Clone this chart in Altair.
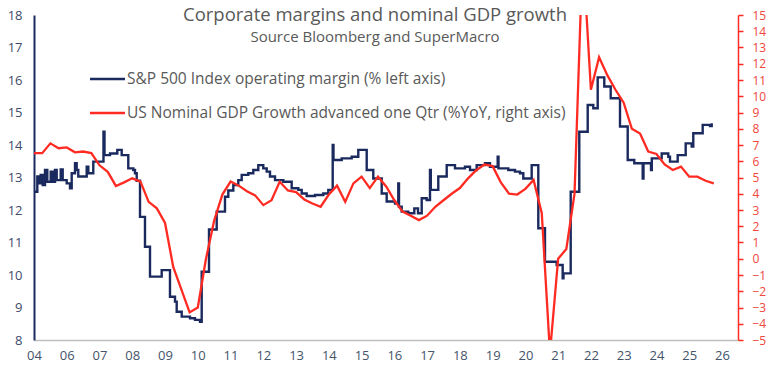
import altair as alt
import pandas as pd

# ---------------- data ----------------
# S&P 500 operating margin (% , left axis) -- step series, fractional years
BLUE_T = [2005.000, 2005.101, 2005.162, 2005.205, 2005.266, 2005.336, 2005.406, 2005.510,
          2005.571, 2005.641, 2005.693, 2005.815, 2005.876, 2005.998, 2006.099, 2006.151,
          2006.252, 2006.303, 2006.352, 2006.609, 2006.658, 2006.810, 2007.121, 2007.152,
          2007.320, 2007.543, 2007.677, 2007.878, 2008.031, 2008.083, 2008.135, 2008.236,
          2008.388, 2008.541, 2008.898, 2009.151, 2009.304, 2009.356, 2009.509, 2009.762,
          2009.915, 2010.067, 2010.119, 2010.342, 2010.577, 2010.830, 2010.931, 2011.084,
          2011.236, 2011.340, 2011.542, 2011.694, 2011.847, 2011.999, 2012.103, 2012.204,
          2012.357, 2012.610, 2012.866, 2013.068, 2013.172, 2013.324, 2013.578, 2013.831,
          2013.984, 2014.118, 2014.142, 2014.393, 2014.698, 2014.899, 2015.156, 2015.357,
          2015.614, 2015.766, 2016.020, 2016.120, 2016.142, 2016.224, 2016.426, 2016.609,
          2016.722, 2016.835, 2016.987, 2017.088, 2017.112, 2017.341, 2017.598, 2017.851,
          2018.156, 2018.309, 2018.513, 2018.767, 2018.919, 2019.154, 2019.179, 2019.478,
          2019.683, 2019.835, 2019.936, 2020.192, 2020.394, 2020.598, 2020.955, 2021.138,
          2021.163, 2021.383, 2021.645, 2021.902, 2022.073, 2022.207, 2022.408, 2022.604,
          2022.888, 2023.123, 2023.324, 2023.581, 2023.605, 2023.834, 2023.858, 2024.161,
          2024.362, 2024.414, 2024.649, 2024.893, 2025.076, 2025.125, 2025.412, 2025.635,
          2025.687]
BLUE_V = [12.56, 13.03, 12.82, 13.08, 12.77, 13.23, 12.87, 13.18,
          12.87, 13.23, 12.92, 13.25, 12.92, 12.82, 12.67, 13.13,
          13.44, 13.23, 13.03, 13.33, 13.13, 13.49, 14.41, 13.69,
          13.74, 13.85, 13.69, 13.28, 13.23, 13.13, 12.90, 11.79,
          10.87, 9.95, 10.15, 9.33, 9.18, 8.87, 8.72, 8.67,
          8.62, 8.56, 10.10, 11.40, 11.95, 12.41, 12.60, 12.77,
          12.92, 13.08, 13.13, 13.23, 13.38, 13.28, 13.18, 13.03,
          12.92, 12.87, 12.67, 12.62, 12.51, 12.43, 12.46, 12.51,
          12.62, 14.00, 13.54, 13.59, 13.64, 13.85, 13.23, 12.97,
          12.51, 12.26, 12.20, 12.82, 12.10, 11.95, 11.90, 12.05,
          11.90, 12.36, 12.31, 13.23, 12.62, 13.03, 13.38, 13.28,
          13.33, 13.23, 13.38, 13.44, 13.33, 13.64, 13.28, 13.23,
          13.18, 13.13, 12.97, 13.38, 11.44, 10.41, 10.31, 9.90,
          10.05, 12.56, 14.41, 15.23, 15.13, 16.08, 15.80, 15.44,
          14.57, 13.54, 13.44, 12.97, 13.44, 13.23, 13.59, 13.74,
          13.64, 13.49, 13.69, 14.05, 13.95, 14.36, 14.62, 14.58,
          14.67]

# US nominal GDP growth advanced one quarter (%YoY, right axis), quarterly from 2005
RED_V = [6.50, 6.50, 7.10, 6.80, 6.85, 6.55, 6.60, 6.50, 5.75, 5.35,
         4.48, 4.70, 4.95, 4.75, 3.50, 3.10, 2.20, -0.50, -1.90, -3.30,
         -3.00, 0.00, 2.35, 3.95, 4.75, 4.50, 4.15, 3.90, 3.30, 3.60,
         4.74, 4.20, 4.10, 3.65, 3.40, 3.20, 3.95, 4.50, 3.50, 4.64,
         5.05, 4.35, 5.05, 4.45, 3.60, 2.90, 2.65, 2.38, 2.65, 3.20,
         3.60, 4.00, 4.35, 4.95, 5.45, 5.80, 5.70, 4.70, 4.00, 3.95,
         4.30, 4.85, 2.80, -5.80, 0.00, 0.60, 4.00, 19.00, 10.40, 12.40,
         11.30, 10.40, 9.60, 8.00, 7.70, 6.60, 6.45, 5.80, 5.46, 5.67,
         5.05, 5.05, 4.80, 4.64]
RED_T = [2005 + q / 4 for q in range(len(RED_V))]

X_TICKS = list(range(2005, 2027))
LEFT_TICKS = list(range(8, 19))
RIGHT_TICKS = list(range(-5, 16))

TITLE = "Corporate margins and nominal GDP growth"
SUBTITLE = "Source Bloomberg and SuperMacro"
LEGEND_LABELS = ["S&P 500 Index operating margin (% left axis)",
                 "US Nominal GDP Growth advanced one Qtr (%YoY, right axis)"]

# ---------------- styling ----------------
NAVY = "#1B2A5E"
RED = "#FF2B22"
FONT = "Open Sans"
GREY_TXT = "#595959"

blue_df = pd.DataFrame({"t": BLUE_T, "v": BLUE_V})
red_df = pd.DataFrame({"t": RED_T, "v": RED_V})


def x_enc():
    return alt.X(
        "t:Q",
        scale=alt.Scale(domain=[2005, 2026.49], nice=False, zero=False),
        axis=alt.Axis(values=X_TICKS, title=None, grid=False, ticks=False,
                      labelExpr="datum.value == 2005 ? '04' : slice(toString(datum.value), 2)",
                      labelFlush=False, labelOverlap=False, labelBound=False,
                      domainColor="#BFBFBF", domainWidth=1.5,
                      labelColor="#44546A", labelFontSize=13, labelFont=FONT,
                      labelPadding=9),
    )


blue = alt.Chart(blue_df).mark_line(
    interpolate="step-after", color=NAVY, strokeWidth=2.4, clip=True
).encode(
    x=x_enc(),
    y=alt.Y("v:Q",
            scale=alt.Scale(domain=[8, 18], nice=False, zero=False),
            axis=alt.Axis(orient="left", values=LEFT_TICKS, title=None, grid=False,
                          ticks=False, domainColor=NAVY, domainWidth=2,
                          labelColor="#404A6B", labelFontSize=13, labelFont=FONT,
                          labelPadding=12, labelOverlap=False)),
)

red = alt.Chart(red_df).mark_line(
    color=RED, strokeWidth=2.3, clip=True
).encode(
    x=x_enc(),
    y=alt.Y("v:Q",
            scale=alt.Scale(domain=[-5, 15], nice=False, zero=False),
            axis=alt.Axis(orient="right", values=RIGHT_TICKS, title=None, grid=False,
                          ticks=True, tickColor=RED, tickSize=5, tickWidth=1.5,
                          domainColor=RED, domainWidth=1.5,
                          labelColor="#F0463C", labelFontSize=12, labelFont=FONT,
                          labelPadding=9, labelOverlap=False)),
)

title_df = pd.DataFrame({"s": [TITLE]})
sub_df = pd.DataFrame({"s": [SUBTITLE]})
title = alt.Chart(title_df).mark_text(
    font=FONT, fontSize=18.5, color=GREY_TXT, align="center", baseline="middle"
).encode(x=alt.value(341), y=alt.value(0), text="s:N")
subtitle = alt.Chart(sub_df).mark_text(
    font=FONT, fontSize=15, color=GREY_TXT, align="center", baseline="middle"
).encode(x=alt.value(341), y=alt.value(22), text="s:N")

leg1_df = pd.DataFrame({"s": [LEGEND_LABELS[0]]})
leg2_df = pd.DataFrame({"s": [LEGEND_LABELS[1]]})
leg1_line = alt.Chart(leg1_df).mark_rule(color=NAVY, strokeWidth=2.5).encode(
    x=alt.value(56), x2=alt.value(91), y=alt.value(64))
leg1_txt = alt.Chart(leg1_df).mark_text(
    font=FONT, fontSize=15.5, color=GREY_TXT, align="left", baseline="middle"
).encode(x=alt.value(93), y=alt.value(64), text="s:N")
leg2_line = alt.Chart(leg2_df).mark_rule(color=RED, strokeWidth=2.5).encode(
    x=alt.value(56), x2=alt.value(91), y=alt.value(98))
leg2_txt = alt.Chart(leg2_df).mark_text(
    font=FONT, fontSize=15.5, color=GREY_TXT, align="left", baseline="middle"
).encode(x=alt.value(93), y=alt.value(98), text="s:N")

chart = alt.layer(
    blue, red, title, subtitle, leg1_line, leg1_txt, leg2_line, leg2_txt
).resolve_scale(y="independent").properties(
    width=704, height=325,
    padding={"left": 34, "top": 15, "right": 33, "bottom": 36},
    autosize=alt.AutoSizeParams(type="none"),
    background="white",
).configure_view(stroke=None)

chart.save("out.html", embed_options={"renderer": "svg", "actions": False})
